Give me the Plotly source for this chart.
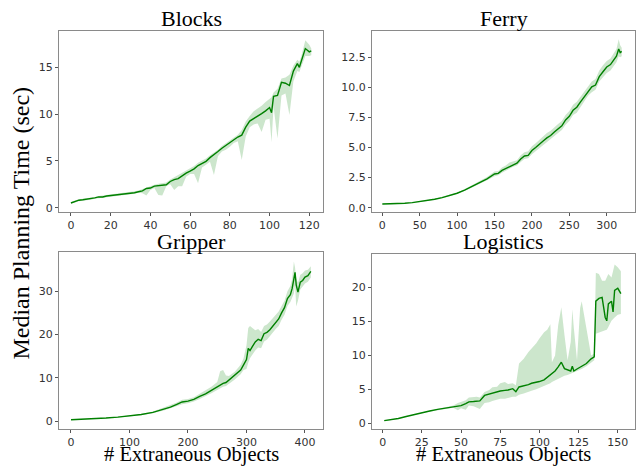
import plotly.graph_objects as go

# ---------------- data ----------------
blocks_x = [0, 2, 4, 6, 8, 10, 12, 14, 16, 18, 20, 22, 24, 26, 28, 30, 32, 34, 36, 38,
            40, 42, 44, 46, 48, 50, 52, 54, 56, 58, 60, 62, 64, 66, 68, 70, 72, 74, 76, 78,
            80, 82, 84, 86, 88, 90, 92, 94, 96, 98, 100, 101, 102, 104, 106, 108, 110, 112,
            114, 115, 116, 118, 120, 121]
blocks_med = [0.5, 0.65, 0.8, 0.85, 0.9, 0.95, 1.05, 1.15, 1.15, 1.25,
              1.3, 1.3, 1.4, 1.45, 1.5, 1.55, 1.6, 1.7, 1.8, 2.05,
              2.1, 2.3, 2.35, 2.4, 2.45, 2.8, 3.0, 3.1, 3.45, 3.7,
              3.9, 4.15, 4.5, 4.7, 4.95, 5.35, 5.65, 6.0, 6.35, 6.65,
              7.0, 7.3, 7.55, 7.75, 8.6, 9.25, 9.5, 9.8, 10.05, 10.35,
              10.7, 10.15, 11.9, 12.0, 13.4, 13.3, 13.05, 14.6, 15.4, 15.0, 15.7, 17.0, 16.65, 16.75]
blocks_lo = [0.45, 0.55, 0.7, 0.75, 0.8, 0.85, 0.95, 1.05, 1.05, 1.15,
             1.2, 1.2, 1.3, 1.35, 1.4, 1.45, 1.5, 1.6, 1.55, 1.3,
             1.9, 2.1, 1.35, 1.3, 2.3, 2.5, 1.9, 2.3, 2.3, 3.3,
             3.6, 3.6, 2.6, 4.3, 4.6, 4.9, 3.5, 5.5, 6.0, 6.2,
             6.5, 6.9, 7.1, 5.1, 7.6, 8.6, 8.9, 9.0, 8.1, 9.4,
             9.5, 7.0, 10.8, 7.4, 12.0, 12.2, 9.9, 13.5, 14.6, 14.5, 15.0, 16.2, 16.2, 16.3]
blocks_hi = [0.6, 0.75, 0.9, 0.95, 1.0, 1.05, 1.15, 1.25, 1.3, 1.35,
             1.4, 1.45, 1.5, 1.6, 1.65, 1.7, 1.75, 1.85, 2.0, 2.2,
             2.3, 2.45, 2.55, 2.6, 2.7, 3.0, 3.25, 3.5, 3.75, 4.0,
             4.2, 4.45, 4.8, 5.0, 5.25, 5.6, 5.9, 6.2, 6.6, 6.9,
             7.25, 7.5, 7.8, 8.3, 9.2, 9.8, 10.3, 10.6, 10.9, 11.3,
             11.6, 11.8, 12.3, 12.7, 13.8, 13.9, 14.2, 15.2, 15.8, 15.6, 16.2, 17.9, 17.4, 17.0]

ferry_x = [0, 10, 20, 30, 40, 50, 60, 70, 80, 90, 100, 110, 120, 130, 140, 150,
           155, 160, 165, 170, 175, 180, 185, 190, 195, 200, 205, 210, 215, 220, 225, 230,
           235, 240, 245, 250, 255, 260, 265, 270, 275, 280, 285, 290, 295, 300, 305, 310,
           313, 316, 318, 320]
ferry_med = [0.3, 0.31, 0.33, 0.37, 0.42, 0.5, 0.58, 0.7, 0.84, 1.0, 1.2, 1.45, 1.75, 2.05, 2.4, 2.8,
             2.85, 3.1, 3.25, 3.45, 3.6, 3.7, 4.05, 4.3, 4.35, 4.75,
             5.0, 5.3, 5.55, 5.8, 6.0, 6.3, 6.55, 6.8, 7.3, 7.6,
             8.1, 8.35, 8.8, 9.2, 9.7, 10.05, 10.2, 10.9, 11.3, 11.7,
             11.9, 12.3, 12.6, 13.2, 12.9, 13.0]
ferry_lo = [0.28, 0.29, 0.31, 0.35, 0.4, 0.47, 0.55, 0.66, 0.8, 0.95, 1.14, 1.38, 1.67, 1.95, 2.28, 2.62,
            2.7, 2.9, 3.05, 3.25, 3.4, 3.5, 3.8, 4.05, 4.1, 4.45,
            4.7, 5.0, 5.25, 5.5, 5.7, 5.95, 6.2, 6.45, 6.9, 7.2,
            7.7, 7.9, 8.4, 8.8, 9.3, 9.6, 9.8, 10.5, 10.8, 11.2,
            11.4, 11.8, 12.1, 12.6, 12.5, 12.6]
ferry_hi = [0.32, 0.33, 0.35, 0.39, 0.45, 0.53, 0.62, 0.75, 0.9, 1.06, 1.27, 1.53, 1.85, 2.17, 2.55, 3.0,
            3.05, 3.35, 3.5, 3.75, 3.85, 3.95, 4.35, 4.6, 4.7, 5.1,
            5.35, 5.65, 5.9, 6.2, 6.4, 6.7, 6.95, 7.2, 7.7, 8.05,
            8.55, 8.8, 9.25, 9.65, 10.15, 10.5, 10.7, 11.4, 11.85, 12.2,
            12.4, 12.9, 13.2, 14.0, 13.5, 13.3]

gripper_x = [0, 20, 40, 60, 80, 100, 120, 140, 150, 160,
             170, 180, 190, 200, 210, 220, 230, 240, 250, 255,
             260, 265, 270, 280, 290, 295, 300, 303, 306, 310,
             315, 320, 325, 330, 335, 340, 345, 350, 355, 360,
             365, 370, 375, 378, 381, 383, 385, 388, 392, 396,
             400, 405, 410]
gripper_med = [0.3, 0.4, 0.55, 0.7, 0.9, 1.15, 1.5, 2.0, 2.4, 2.8,
               3.2, 3.8, 4.4, 4.6, 5.0, 5.7, 6.3, 7.1, 7.9, 8.4,
               8.7, 8.9, 9.5, 10.5, 11.8, 13.0, 14.2, 16.8, 16.3, 17.2,
               18.3, 18.9, 18.6, 20.2, 20.5, 21.1, 22.0, 22.9, 23.6, 25.0,
               26.2, 28.3, 29.2, 30.6, 33.0, 34.4, 31.5, 29.8, 32.1, 32.5,
               33.3, 33.6, 34.6]
gripper_lo = [0.25, 0.35, 0.5, 0.65, 0.83, 1.05, 1.35, 1.8, 2.15, 2.5,
              2.85, 3.4, 3.9, 4.1, 4.5, 5.1, 5.7, 6.4, 7.2, 7.6,
              7.9, 8.1, 8.7, 9.6, 10.8, 11.8, 12.0, 13.5, 14.5, 15.3,
              16.3, 17.0, 16.8, 18.4, 18.8, 19.5, 20.4, 21.3, 22.0, 23.4,
              24.6, 26.6, 27.5, 28.5, 29.5, 31.5, 26.5, 27.8, 30.4, 31.0,
              31.8, 32.2, 33.2]
gripper_hi = [0.35, 0.45, 0.6, 0.76, 0.98, 1.25, 1.65, 2.2, 2.7, 3.1,
              3.6, 4.2, 4.9, 5.1, 5.5, 6.3, 7.0, 7.9, 9.0, 11.5,
              11.8, 10.5, 10.4, 11.4, 13.0, 14.5, 17.5, 21.5, 22.0, 21.5,
              21.0, 21.3, 20.6, 22.0, 22.3, 23.0, 23.8, 24.6, 25.3, 26.6,
              27.8, 30.0, 31.2, 32.8, 36.9, 35.5, 33.0, 32.0, 33.8, 34.2,
              34.8, 35.0, 35.8]

logistics_x = [1, 5, 10, 15, 20, 25, 30, 35, 40, 45,
               48, 50, 53, 55, 58, 60, 62, 65, 68, 70,
               73, 75, 78, 80, 83, 85, 87, 90, 93, 95,
               98, 100, 103, 105, 107, 108, 110, 112, 114, 116,
               118, 120, 121, 122, 124, 126, 127, 130, 133, 135,
               136, 138, 140, 142, 143, 144, 146, 147, 148, 150,
               152]
logistics_med = [0.38, 0.5, 0.7, 1.0, 1.3, 1.55, 1.8, 2.05, 2.2, 2.4,
                 2.5, 2.6, 2.9, 3.15, 3.2, 3.3, 3.3, 4.1, 4.3, 4.5,
                 4.6, 4.75, 4.85, 4.9, 5.1, 4.65, 5.35, 5.5, 5.7, 5.9,
                 6.0, 6.15, 6.4, 6.75, 7.1, 7.3, 7.7, 8.3, 9.0, 8.05,
                 7.9, 7.7, 8.4, 7.7, 8.0, 8.3, 8.4, 8.8, 9.5, 9.8,
                 18.0, 18.4, 18.55, 15.6, 15.1, 17.6, 18.0, 16.4, 19.6, 19.9,
                 19.1]
logistics_lo = [0.33, 0.45, 0.65, 0.95, 1.25, 1.5, 1.75, 2.0, 2.1, 2.3,
                1.9, 2.2, 2.0, 2.6, 2.5, 2.3, 2.1, 3.0, 3.1, 3.3,
                3.5, 3.6, 3.6, 3.7, 3.9, 3.9, 4.2, 4.4, 4.6, 4.8,
                5.0, 5.1, 5.4, 5.7, 5.9, 6.1, 6.4, 6.6, 6.8, 7.0,
                7.1, 7.2, 7.3, 7.4, 7.6, 7.9, 8.0, 8.4, 8.9, 9.3,
                13.2, 13.3, 13.5, 13.7, 13.8, 14.2, 15.1, 15.3, 15.6, 16.0,
                16.1]
logistics_hi = [0.43, 0.55, 0.75, 1.05, 1.35, 1.6, 1.85, 2.1, 2.3, 2.6,
                3.0, 3.2, 3.4, 3.8, 3.9, 3.9, 3.8, 4.6, 4.9, 5.3,
                5.4, 5.9, 6.1, 5.8, 5.9, 5.6, 8.8, 9.5, 10.5, 11.0,
                11.8, 12.5, 13.4, 13.8, 14.6, 9.0, 10.0, 14.5, 17.1, 13.0,
                9.3, 12.0, 16.8, 14.0, 9.3, 17.0, 18.0, 14.0, 10.0, 10.3,
                22.2, 22.0, 21.0, 21.0, 21.5, 22.0, 21.5, 22.5, 23.4, 23.0,
                22.4]

titles = ["Blocks", "Ferry", "Gripper", "Logistics"]
y_label = "Median Planning Time (sec)"
x_label = "# Extraneous Objects"

# ---------------- figure ----------------
W, H = 639, 467
LINE = "#008000"
BAND = "rgba(0,128,0,0.2)"

panels = [
    dict(x=blocks_x, med=blocks_med, lo=blocks_lo, hi=blocks_hi,
         px=(59, 323), py=(31, 213), xr=[-6.0, 126.9], yr=[-0.42, 18.9],
         xt=[0, 20, 40, 60, 80, 100, 120], yt=[0, 5, 10, 15], yfmt="d"),
    dict(x=ferry_x, med=ferry_med, lo=ferry_lo, hi=ferry_hi,
         px=(372, 635), py=(31, 213), xr=[-13.8, 337.8], yr=[-0.33, 14.71],
         xt=[0, 50, 100, 150, 200, 250, 300], yt=[0, 2.5, 5, 7.5, 10, 12.5], yfmt=".1f"),
    dict(x=gripper_x, med=gripper_med, lo=gripper_lo, hi=gripper_hi,
         px=(59, 323), py=(254, 432), xr=[-20.5, 430.8], yr=[-1.9, 39.0],
         xt=[0, 100, 200, 300, 400], yt=[0, 10, 20, 30], yfmt="d"),
    dict(x=logistics_x, med=logistics_med, lo=logistics_lo, hi=logistics_hi,
         px=(372, 635), py=(256, 432), xr=[-6.8, 161.0], yr=[-0.88, 24.9],
         xt=[0, 25, 50, 75, 100, 125, 150], yt=[0, 5, 10, 15, 20], yfmt="d"),
]

fig = go.Figure()
layout = dict(width=W, height=H, margin=dict(l=0, r=0, t=0, b=0),
              paper_bgcolor="white", plot_bgcolor="white", showlegend=False)

tickfont = dict(family="DejaVu Sans", size=11, color="#333333")
annotations = []
for i, p in enumerate(panels):
    k = "" if i == 0 else str(i + 1)
    xa, ya = "x" + k, "y" + k
    fig.add_trace(go.Scatter(
        x=list(p["x"]) + list(p["x"])[::-1],
        y=list(p["hi"]) + list(p["lo"])[::-1],
        xaxis=xa, yaxis=ya, mode="lines", fill="toself",
        fillcolor=BAND, line=dict(width=0, color=BAND), hoverinfo="skip"))
    fig.add_trace(go.Scatter(
        x=p["x"], y=p["med"], xaxis=xa, yaxis=ya, mode="lines",
        line=dict(color=LINE, width=1.4)))
    common = dict(showgrid=False, zeroline=False, showline=True, mirror=True,
                  linecolor="#8a8a8a", linewidth=1, ticks="outside", ticklen=3,
                  tickwidth=1, tickcolor="#555555", tickfont=tickfont)
    layout["xaxis" + k] = dict(domain=[p["px"][0] / W, p["px"][1] / W], anchor=ya,
                               range=p["xr"], tickvals=p["xt"], **common)
    layout["yaxis" + k] = dict(domain=[1 - p["py"][1] / H, 1 - p["py"][0] / H], anchor=xa,
                               range=p["yr"], tickvals=p["yt"], tickformat=p["yfmt"], **common)
    cx = (p["px"][0] + p["px"][1]) / 2 / W
    ty = 19 if i < 2 else 243
    annotations.append(dict(text=titles[i], x=cx, y=1 - ty / H, xref="paper", yref="paper",
                            xanchor="center", yanchor="middle", showarrow=False,
                            font=dict(family="Liberation Serif", size=22, color="black")))
    if i >= 2:
        annotations.append(dict(text=x_label, x=cx, y=1 - 445 / H, xref="paper", yref="paper",
                                xanchor="center", yanchor="top", showarrow=False, borderpad=0,
                                font=dict(family="Liberation Serif", size=20.5, color="black")))

annotations.append(dict(text=y_label, x=21 / W, y=1 - 225 / H, xref="paper", yref="paper",
                        xanchor="center", yanchor="middle", showarrow=False, textangle=-90,
                        font=dict(family="Liberation Serif", size=24, color="black")))
layout["annotations"] = annotations
fig.update_layout(**layout)
fig.write_html("out.html", config={"displayModeBar": False},
               post_script="document.body.style.margin='0';document.body.style.overflow='hidden';")
